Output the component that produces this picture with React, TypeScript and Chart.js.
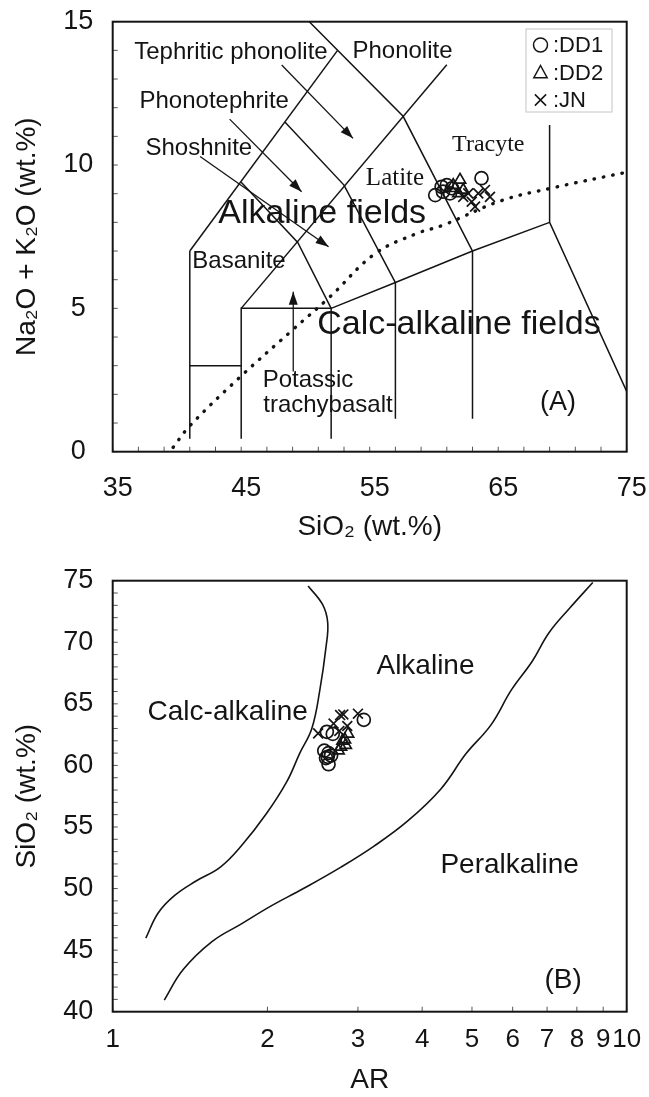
import React, { useEffect, useRef } from 'react';
import { Chart, registerables } from 'chart.js';

Chart.register(...registerables);

const SANS = '"Liberation Sans", Arial, Helvetica, sans-serif';
const SERIF = '"Liberation Serif", "Times New Roman", serif';
const INK = '#141414';

// ---------------- Panel (A): TAS diagram ----------------
const TAS_X_TICK_LABELS = [35, 45, 55, 65, 75];
const TAS_Y_TICK_LABELS = [0, 5, 10, 15];

const DD1_TAS_SIO2 = [60.1, 60.6, 61.0, 61.4, 60.7, 61.25, 63.7];
const DD1_TAS_ALK = [8.95, 9.24, 9.3, 9.19, 9.07, 9.01, 9.54];
const DD2_TAS_SIO2 = [62.03, 61.64, 62.28, 61.9, 61.5];
const DD2_TAS_ALK = [9.48, 9.19, 9.13, 9.01, 9.3];
const JN_TAS_SIO2 = [62.28, 62.94, 63.45, 63.97, 64.36, 63.2, 62.67];
const JN_TAS_ALK = [8.89, 8.72, 9.01, 9.13, 8.89, 8.55, 9.01];

// field boundaries (SiO2, Na2O+K2O)
const TAS_BOUNDARIES: number[][][] = [
  [[41, 0.45], [41, 7]],
  [[41, 3], [45, 3]],
  [[45, 0.45], [45, 5], [52, 5], [52, 0.45]],
  [[52, 5], [57, 5.9], [63, 7], [69, 8]],
  [[57, 1.15], [57, 5.9]],
  [[63, 1.15], [63, 7]],
  [[69, 11.4], [69, 8], [75, 2.1]],
  [[41, 7], [52.5, 14]],
  [[50.3, 15], [57.6, 11.7], [63, 7]],
  [[45, 5], [61, 13.5]],
  [[48.4, 11.5], [53, 9.3], [57, 5.9]],
  [[45, 9.4], [49.4, 7.3], [52, 5]],
];

// alkaline / sub-alkaline divide (dotted)
const DIVIDE_SIO2 = [39.7, 41, 44.9, 49, 51.9, 55.4, 58.6, 60.7, 65.2, 69.2, 75];
const DIVIDE_ALK = [0.15, 0.9, 2.6, 4.25, 5.4, 6.9, 7.6, 7.9, 8.75, 9.2, 9.75];

// label arrows [from, to]
const TAS_ARROWS: number[][][] = [
  [[48.15, 13.49], [53.7, 10.93]],
  [[44.1, 11.6], [49.7, 9.07]],
  [[41.8, 10.3], [51.8, 7.15]],
  [[49.05, 2.8], [49.05, 5.58]],
];

type Note = { text: string; x: number; y: number; size: number; serif?: boolean };
const TAS_NOTES: Note[] = [
  { text: 'Tephritic phonolite', x: 44.2, y: 13.94, size: 24 },
  { text: 'Phonolite', x: 57.55, y: 13.95, size: 24 },
  { text: 'Phonotephrite', x: 42.9, y: 12.21, size: 24 },
  { text: 'Shoshnite', x: 41.7, y: 10.58, size: 24 },
  { text: 'Basanite', x: 44.83, y: 6.63, size: 24 },
  { text: 'Potassic', x: 50.2, y: 2.5, size: 24 },
  { text: 'trachybasalt', x: 51.75, y: 1.63, size: 24 },
  { text: 'Alkaline fields', x: 51.3, y: 8.32, size: 34 },
  { text: 'Calc-alkaline fields', x: 61.95, y: 4.42, size: 34 },
  { text: 'Latite', x: 56.97, y: 9.54, size: 25, serif: true },
  { text: 'Tracyte', x: 64.23, y: 10.7, size: 24, serif: true },
  { text: '(A)', x: 69.65, y: 1.73, size: 27 },
];

// ---------------- Panel (B): AR vs SiO2 ----------------
const AR_TICK_LABELS = [1, 2, 3, 4, 5, 6, 7, 8, 9, 10];
const SIO2_TICK_LABELS = [40, 45, 50, 55, 60, 65, 70, 75];

const DD1_AR = [3.08, 2.63, 2.63, 2.6, 2.66, 2.58, 2.68, 2.62, 2.61];
const DD1_SIO2 = [63.7, 60.1, 61.0, 60.6, 60.8, 61.2, 62.56, 60.7, 62.73];
const DD2_AR = [2.83, 2.84, 2.78, 2.87, 2.75, 2.8];
const DD2_SIO2 = [62.1, 61.65, 61.5, 62.56, 61.2, 62.0];
const JN_AR = [2.51, 3.0, 2.77, 2.81, 2.69, 2.76, 2.86];
const JN_SIO2 = [62.6, 64.2, 64.09, 64.14, 63.4, 62.8, 63.2];

const CALC_AR = [1.16, 1.225, 1.32, 1.45, 1.62, 1.78, 1.99, 2.18, 2.31, 2.44, 2.53, 2.6, 2.62, 2.56, 2.4];
const CALC_SIO2 = [45.97, 48.0, 49.44, 50.59, 51.74, 53.47, 56.07, 58.66, 60.96, 63.0, 66.15, 69.6, 71.6, 73.07, 74.57];
const PERALK_AR = [1.26, 1.37, 1.56, 1.78, 2.03, 2.35, 2.78, 3.23, 3.75, 4.35, 4.87, 5.44, 5.97, 6.55, 7.06, 7.75, 8.59];
const PERALK_SIO2 = [40.94, 43.4, 45.69, 47.13, 48.57, 50.0, 51.74, 53.47, 55.49, 58.09, 60.96, 63.27, 66.15, 68.46, 70.77, 72.78, 74.85];

const AR_NOTES: Note[] = [
  { text: 'Alkaline', x: 4.06, y: 68.03, size: 28 },
  { text: 'Calc-alkaline', x: 1.674, y: 64.33, size: 28 },
  { text: 'Peralkaline', x: 5.92, y: 51.89, size: 28 },
  { text: '(B)', x: 7.52, y: 42.54, size: 28 },
];

const LEGEND_ITEMS = [
  { label: ':DD1', style: 'circle' },
  { label: ':DD2', style: 'triangle' },
  { label: ':JN', style: 'crossRot' },
];

const zip = (xs: number[], ys: number[]) => xs.map((x, i) => ({ x, y: ys[i] }));

function pointSet(label: string, xs: number[], ys: number[], style: string) {
  return {
    label,
    data: zip(xs, ys),
    pointStyle: style,
    pointRadius: style === 'crossRot' ? 7 : 6.5,
    pointBorderWidth: 1.7,
    pointBorderColor: INK,
    pointBackgroundColor: 'rgba(0,0,0,0)',
    showLine: false,
  };
}

function lineSet(pts: { x: number; y: number }[], extra: any = {}) {
  return {
    data: pts,
    showLine: true,
    pointRadius: 0,
    borderColor: INK,
    borderWidth: 1.5,
    tension: 0,
    ...extra,
  };
}

function drawSymbol(ctx: CanvasRenderingContext2D, style: string, cx: number, cy: number, r: number) {
  ctx.beginPath();
  if (style === 'circle') {
    ctx.arc(cx, cy, r, 0, Math.PI * 2);
  } else if (style === 'triangle') {
    ctx.moveTo(cx, cy - r);
    ctx.lineTo(cx + r * 0.95, cy + r * 0.75);
    ctx.lineTo(cx - r * 0.95, cy + r * 0.75);
    ctx.closePath();
  } else {
    ctx.moveTo(cx - r * 0.8, cy - r * 0.8);
    ctx.lineTo(cx + r * 0.8, cy + r * 0.8);
    ctx.moveTo(cx + r * 0.8, cy - r * 0.8);
    ctx.lineTo(cx - r * 0.8, cy + r * 0.8);
  }
  ctx.stroke();
}

function decorPlugin(notes: Note[], arrows: number[][][], withLegend: boolean) {
  return {
    id: 'decor',
    afterDatasetsDraw(chart: any) {
      const { ctx, chartArea: a, scales } = chart;
      const xs = scales.x;
      const ys = scales.y;
      ctx.save();
      // inner ticks
      ctx.strokeStyle = '#555';
      ctx.lineWidth = 1;
      xs.ticks.forEach((t: any) => {
        const px = xs.getPixelForValue(t.value);
        ctx.beginPath();
        ctx.moveTo(px, a.bottom);
        ctx.lineTo(px, a.bottom - 5);
        ctx.stroke();
      });
      ys.ticks.forEach((t: any) => {
        const py = ys.getPixelForValue(t.value);
        ctx.beginPath();
        ctx.moveTo(a.left, py);
        ctx.lineTo(a.left + 5, py);
        ctx.stroke();
      });
      // frame
      ctx.strokeStyle = INK;
      ctx.lineWidth = 2;
      ctx.strokeRect(a.left, a.top, a.right - a.left, a.bottom - a.top);
      // arrow heads
      ctx.fillStyle = INK;
      arrows.forEach((seg) => {
        const x0 = xs.getPixelForValue(seg[0][0]);
        const y0 = ys.getPixelForValue(seg[0][1]);
        const x1 = xs.getPixelForValue(seg[1][0]);
        const y1 = ys.getPixelForValue(seg[1][1]);
        const ang = Math.atan2(y1 - y0, x1 - x0);
        const L = 13;
        const W = 4.5;
        ctx.beginPath();
        ctx.moveTo(x1, y1);
        ctx.lineTo(x1 - L * Math.cos(ang) + W * Math.sin(ang), y1 - L * Math.sin(ang) - W * Math.cos(ang));
        ctx.lineTo(x1 - L * Math.cos(ang) - W * Math.sin(ang), y1 - L * Math.sin(ang) + W * Math.cos(ang));
        ctx.closePath();
        ctx.fill();
      });
      // notes
      ctx.textAlign = 'center';
      ctx.textBaseline = 'middle';
      notes.forEach((n) => {
        ctx.font = `${n.size}px ${n.serif ? SERIF : SANS}`;
        ctx.fillStyle = INK;
        ctx.fillText(n.text, xs.getPixelForValue(n.x), ys.getPixelForValue(n.y));
      });
      // legend
      if (withLegend) {
        const bx = a.right - 100.7;
        const by = a.top + 7.3;
        ctx.strokeStyle = '#c4c4c4';
        ctx.lineWidth = 1;
        ctx.strokeRect(bx, by, 86, 83);
        ctx.textAlign = 'left';
        ctx.font = `22px ${SANS}`;
        LEGEND_ITEMS.forEach((it, i) => {
          const cy = by + 16 + i * 27.5;
          ctx.strokeStyle = INK;
          ctx.lineWidth = 1.5;
          drawSymbol(ctx, it.style, bx + 14.5, cy, 7);
          ctx.fillStyle = INK;
          ctx.fillText(it.label, bx + 27, cy + 1);
        });
      }
      ctx.restore();
    },
  };
}

function tickFont(size: number) {
  return { family: SANS, size };
}

function clearPadding(s: any) {
  s.paddingTop = 0;
  s.paddingBottom = 0;
  s.paddingLeft = 0;
  s.paddingRight = 0;
}

export default function App() {
  const topRef = useRef<HTMLCanvasElement>(null);
  const botRef = useRef<HTMLCanvasElement>(null);

  useEffect(() => {
    document.body.style.margin = '0';
    const TOP_H = 550;
    const BOT_H = 547;

    const tasDatasets: any[] = [
      ...TAS_BOUNDARIES.map((seg) => lineSet(seg.map((p) => ({ x: p[0], y: p[1] })))),
      lineSet(zip(DIVIDE_SIO2, DIVIDE_ALK), {
        borderDash: [0.5, 9],
        borderCapStyle: 'round',
        borderWidth: 3.4,
        tension: 0.4,
      }),
      ...TAS_ARROWS.map((seg) => lineSet(seg.map((p) => ({ x: p[0], y: p[1] })), { borderWidth: 1.3 })),
      pointSet('DD1', DD1_TAS_SIO2, DD1_TAS_ALK, 'circle'),
      pointSet('DD2', DD2_TAS_SIO2, DD2_TAS_ALK, 'triangle'),
      pointSet('JN', JN_TAS_SIO2, JN_TAS_ALK, 'crossRot'),
    ];

    const top = new Chart(topRef.current as HTMLCanvasElement, {
      type: 'scatter',
      data: { datasets: tasDatasets },
      options: {
        responsive: false,
        animation: false,
        events: [],
        layout: { padding: { left: 10, right: 22.3, top: 21.7, bottom: 0 } },
        plugins: { legend: { display: false }, tooltip: { enabled: false } },
        scales: {
          x: {
            type: 'linear',
            min: 35,
            max: 75,
            afterBuildTicks: (s: any) => {
              const t: any[] = [];
              for (let v = 35; v <= 75; v += 2) t.push({ value: v });
              s.ticks = t;
            },
            afterFit: (s: any) => {
              s.height = TOP_H - 451.7;
              clearPadding(s);
            },
            grid: { display: false, drawTicks: false },
            border: { display: false },
            ticks: {
              autoSkip: false,
              maxRotation: 0,
              padding: 21,
              labelOffset: 5,
              color: INK,
              font: tickFont(27),
              callback: (v: any) => (TAS_X_TICK_LABELS.includes(Number(v)) ? String(v) : ''),
            },
            title: {
              display: true,
              text: 'SiO₂ (wt.%)',
              color: INK,
              font: { family: SANS, size: 28 },
              padding: { top: 0, bottom: 6 },
            },
          },
          y: {
            type: 'linear',
            min: 0,
            max: 15,
            afterBuildTicks: (s: any) => {
              const t: any[] = [];
              for (let v = 0; v <= 15; v += 1) t.push({ value: v });
              s.ticks = t;
            },
            afterFit: (s: any) => {
              s.width = 102.7;
              clearPadding(s);
            },
            grid: { display: false, drawTicks: false },
            border: { display: false },
            ticks: {
              autoSkip: false,
              padding: 19.4,
              crossAlign: 'center',
              color: INK,
              font: tickFont(27),
              callback: (v: any) => (TAS_Y_TICK_LABELS.includes(Number(v)) ? String(v) : ''),
            },
            title: {
              display: true,
              text: 'Na₂O + K₂O (wt.%)',
              color: INK,
              font: { family: SANS, size: 28 },
              padding: 0,
            },
          },
        },
      } as any,
      plugins: [decorPlugin(TAS_NOTES, TAS_ARROWS, true)],
    });

    const arDatasets: any[] = [
      lineSet(zip(CALC_AR, CALC_SIO2), { tension: 0.4, borderWidth: 1.6 }),
      lineSet(zip(PERALK_AR, PERALK_SIO2), { tension: 0.4, borderWidth: 1.6 }),
      pointSet('DD1', DD1_AR, DD1_SIO2, 'circle'),
      pointSet('DD2', DD2_AR, DD2_SIO2, 'triangle'),
      pointSet('JN', JN_AR, JN_SIO2, 'crossRot'),
    ];

    const bot = new Chart(botRef.current as HTMLCanvasElement, {
      type: 'scatter',
      data: { datasets: arDatasets },
      options: {
        responsive: false,
        animation: false,
        events: [],
        layout: { padding: { left: 10, right: 22.3, top: 30.7, bottom: 0 } },
        plugins: { legend: { display: false }, tooltip: { enabled: false } },
        scales: {
          x: {
            type: 'logarithmic',
            min: 1,
            max: 10,
            afterBuildTicks: (s: any) => {
              s.ticks = AR_TICK_LABELS.map((v) => ({ value: v, major: false }));
            },
            afterFit: (s: any) => {
              s.height = BOT_H - 461.7;
              clearPadding(s);
            },
            grid: { display: false, drawTicks: false },
            border: { display: false },
            ticks: {
              autoSkip: false,
              maxRotation: 0,
              padding: 13,
              color: INK,
              font: tickFont(26),
              callback: (v: any) => String(v),
            },
            title: {
              display: true,
              text: 'AR',
              color: INK,
              font: { family: SANS, size: 28 },
              padding: { top: 0, bottom: 0 },
            },
          },
          y: {
            type: 'linear',
            min: 40,
            max: 75,
            afterBuildTicks: (s: any) => {
              const t: any[] = [];
              for (let v = 40; v <= 75; v += 1) t.push({ value: v });
              s.ticks = t;
            },
            afterFit: (s: any) => {
              s.width = 102.7;
              clearPadding(s);
            },
            grid: { display: false, drawTicks: false },
            border: { display: false },
            ticks: {
              autoSkip: false,
              padding: 19.4,
              crossAlign: 'center',
              color: INK,
              font: tickFont(27),
              callback: (v: any) => (SIO2_TICK_LABELS.includes(Number(v)) ? String(v) : ''),
            },
            title: {
              display: true,
              text: 'SiO₂ (wt.%)',
              color: INK,
              font: { family: SANS, size: 28 },
              padding: 0,
            },
          },
        },
      } as any,
      plugins: [decorPlugin(AR_NOTES, [], false)],
    });

    return () => {
      top.destroy();
      bot.destroy();
    };
  }, []);

  return (
    <div style={{ position: 'absolute', left: 0, top: 0, width: 649, height: 1097, background: '#fff' }}>
      <canvas ref={topRef} width={649} height={550} style={{ display: 'block', width: 649, height: 550 }} />
      <canvas ref={botRef} width={649} height={547} style={{ display: 'block', width: 649, height: 547 }} />
    </div>
  );
}
